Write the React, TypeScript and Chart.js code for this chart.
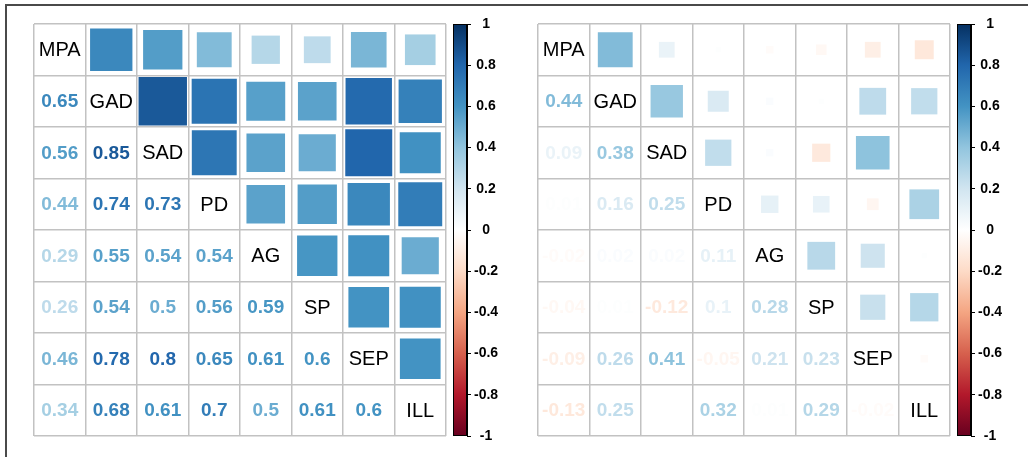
import React, { useEffect, useRef } from 'react';
import { Chart, registerables } from 'chart.js';

Chart.register(...registerables);

// ---------- data ----------
const VARS = ['MPA', 'GAD', 'SAD', 'PD', 'AG', 'SP', 'SEP', 'ILL'];

// lower triangle, row i holds correlations with columns 0..i-1
const LEFT_CORR: number[][] = [
  [],
  [0.65],
  [0.56, 0.85],
  [0.44, 0.74, 0.73],
  [0.29, 0.55, 0.54, 0.54],
  [0.26, 0.54, 0.5, 0.56, 0.59],
  [0.46, 0.78, 0.8, 0.65, 0.61, 0.6],
  [0.34, 0.68, 0.61, 0.7, 0.5, 0.61, 0.6],
];

const RIGHT_CORR: number[][] = [
  [],
  [0.44],
  [0.09, 0.38],
  [0.01, 0.16, 0.25],
  [-0.02, 0.02, 0.02, 0.11],
  [-0.04, 0.01, -0.12, 0.1, 0.28],
  [-0.09, 0.26, 0.41, -0.05, 0.21, 0.23],
  [-0.13, 0.25, 0, 0.32, 0.01, 0.29, -0.02],
];

const CB_TICKS = [1, 0.8, 0.6, 0.4, 0.2, 0, -0.2, -0.4, -0.6, -0.8, -1];

const RDBU = ['#67001F', '#B2182B', '#D6604D', '#F4A582', '#FDDBC7', '#FFFFFF', '#D1E5F0', '#92C5DE', '#4393C3', '#2166AC', '#053061'];

// ---------- helpers ----------
const FONT = "'Liberation Sans', Arial, Helvetica, sans-serif";

function hexToRgb(h: string) {
  const n = parseInt(h.slice(1), 16);
  return [(n >> 16) & 255, (n >> 8) & 255, n & 255];
}

function corrColor(r: number) {
  const t = Math.max(0, Math.min(10, ((r + 1) / 2) * 10));
  const i = Math.min(9, Math.floor(t));
  const f = t - i;
  const a = hexToRgb(RDBU[i]);
  const b = hexToRgb(RDBU[i + 1]);
  const c = a.map((v, k) => Math.round(v + (b[k] - v) * f));
  return `rgb(${c[0]},${c[1]},${c[2]})`;
}

function buildPoints(m: number[][]) {
  const pts: { x: number; y: number; r: number }[] = [];
  for (let row = 1; row < m.length; row++) {
    for (let col = 0; col < row; col++) {
      pts.push({ x: row + 0.5, y: col + 0.5, r: m[row][col] });
    }
  }
  return pts;
}

const cellTextPlugin = {
  id: 'cellText',
  afterDatasetsDraw(chart: any, _args: any, opts: any) {
    const m: number[][] = opts.matrix;
    if (!m) return;
    const { x, y } = chart.scales;
    const ctx = chart.ctx;
    ctx.save();
    ctx.textAlign = 'center';
    ctx.textBaseline = 'middle';
    for (let i = 0; i < VARS.length; i++) {
      ctx.fillStyle = '#000';
      ctx.font = `20px ${FONT}`;
      ctx.fillText(VARS[i], x.getPixelForValue(i + 0.5), y.getPixelForValue(i + 0.5) + 1);
    }
    ctx.font = `bold 19px ${FONT}`;
    for (let row = 1; row < m.length; row++) {
      for (let col = 0; col < row; col++) {
        const v = m[row][col];
        ctx.fillStyle = corrColor(v);
        ctx.fillText(String(v), x.getPixelForValue(col + 0.5), y.getPixelForValue(row + 0.5) + 1);
      }
    }
    ctx.restore();
  },
};

const colorbarPlugin = {
  id: 'colorbar',
  afterDraw(chart: any) {
    const cb = chart.scales.cb;
    if (!cb) return;
    const ctx = chart.ctx;
    const right = cb.left;
    const left = right - 14;
    const top = cb.getPixelForValue(1);
    const bottom = cb.getPixelForValue(-1);
    const g = ctx.createLinearGradient(0, top, 0, bottom);
    for (let k = 0; k <= 10; k++) g.addColorStop(k / 10, RDBU[10 - k]);
    ctx.save();
    ctx.fillStyle = g;
    ctx.fillRect(left, top, right - left, bottom - top);
    ctx.strokeStyle = '#000';
    ctx.lineWidth = 1;
    ctx.strokeRect(left + 0.5, top + 0.5, right - left - 1, bottom - top - 1);
    ctx.restore();
  },
};

const CANVAS_W = 507;
const CANVAS_H = 457;

function CorrPanel({ matrix, left }: { matrix: number[][]; left: number }) {
  const ref = useRef<HTMLCanvasElement>(null);
  useEffect(() => {
    if (!ref.current) return;
    const gridColor = '#c2c2c2';
    const chart = new Chart(ref.current, {
      type: 'scatter',
      data: {
        datasets: [
          {
            data: buildPoints(matrix) as any,
            pointStyle: 'rect',
            borderWidth: 0,
            radius: (ctx: any) => {
              const raw = ctx.raw;
              if (!raw) return 0;
              const xs = ctx.chart.scales.x;
              const cell = Math.abs(xs.getPixelForValue(1) - xs.getPixelForValue(0));
              const side = Math.sqrt(Math.abs(raw.r)) * cell * 1.02;
              return side / Math.SQRT2;
            },
            hoverRadius: 0,
            backgroundColor: (ctx: any) => (ctx.raw ? corrColor(ctx.raw.r) : '#fff'),
            borderColor: 'rgba(0,0,0,0)',
          } as any,
        ],
      },
      options: {
        animation: false,
        responsive: false,
        events: [],
        layout: { padding: { left: 34, top: 24, bottom: 21, right: 0 } },
        plugins: {
          legend: { display: false },
          tooltip: { enabled: false },
          cellText: { matrix },
        } as any,
        scales: {
          x: {
            type: 'linear',
            min: 0,
            max: 8,
            ticks: { display: false, stepSize: 1 },
            grid: { color: gridColor, lineWidth: 1.5, drawTicks: false },
            border: { display: false },
            afterFit: (s: any) => {
              s.height = 0;
            },
          },
          y: {
            type: 'linear',
            reverse: true,
            min: 0,
            max: 8,
            ticks: { display: false, stepSize: 1 },
            grid: { color: gridColor, lineWidth: 1.5, drawTicks: false },
            border: { display: false },
            afterFit: (s: any) => {
              s.width = 0;
            },
          },
          gap: {
            type: 'linear',
            position: 'right',
            weight: 0,
            display: true,
            ticks: { display: false },
            grid: { display: false, drawTicks: false },
            border: { display: false },
            afterFit: (s: any) => {
              s.width = 21;
            },
          },
          cb: {
            type: 'linear',
            position: 'right',
            weight: 1,
            min: -1,
            max: 1,
            afterBuildTicks: (s: any) => {
              s.ticks = CB_TICKS.map((v) => ({ value: v }));
            },
            ticks: {
              callback: (v: any) => String(v),
              color: '#000',
              padding: 3,
              crossAlign: 'center',
              font: { family: FONT, size: 14, weight: 'bold' },
            },
            grid: { drawOnChartArea: false, drawTicks: true, tickLength: 4, color: '#000', lineWidth: 1 },
            border: { display: true, color: '#000', width: 1 },
            afterFit: (s: any) => {
              s.width = 40;
            },
          },
        } as any,
      },
      plugins: [cellTextPlugin, colorbarPlugin],
    });
    return () => chart.destroy();
  }, [matrix]);
  return (
    <canvas
      ref={ref}
      width={CANVAS_W}
      height={CANVAS_H}
      style={{ position: 'absolute', left, top: 0, width: CANVAS_W, height: CANVAS_H }}
    />
  );
}

export default function App() {
  return (
    <div
      style={{
        position: 'fixed',
        left: 0,
        top: 0,
        width: 1028,
        height: 457,
        background: '#fff',
        overflow: 'hidden',
      }}
    >
      <div
        style={{
          position: 'absolute',
          left: 5,
          top: 4,
          width: 1040,
          height: 470,
          borderTop: '2px solid #4a4a4a',
          borderLeft: '2px solid #4a4a4a',
          boxSizing: 'border-box',
        }}
      />
      <CorrPanel matrix={LEFT_CORR} left={0} />
      <CorrPanel matrix={RIGHT_CORR} left={504} />
    </div>
  );
}
